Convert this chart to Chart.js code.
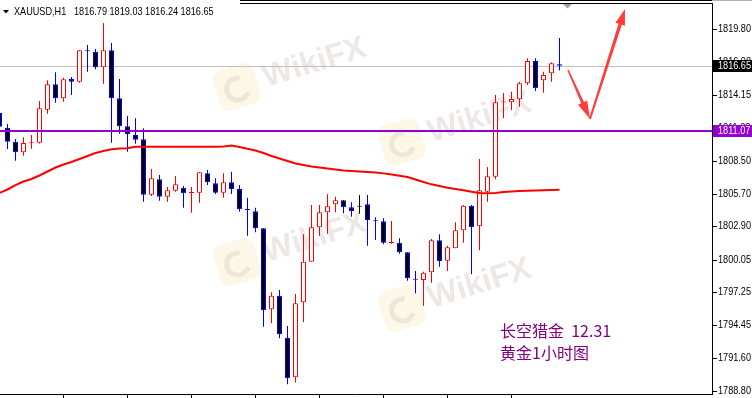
<!DOCTYPE html>
<html>
<head>
<meta charset="utf-8">
<script src="https://cdn.jsdelivr.net/npm/chart.js@4.4.1/dist/chart.umd.min.js"></script>
<style>
  html, body { margin: 0; padding: 0; background: #fff; }
  canvas { display: block; }
</style>
</head>
<body>
<canvas id="chart" width="752" height="398"></canvas>
<script>
// XAUUSD H1 candles
var opens = [1812.61,1811.35,1810.15,1809.24,1810.02,1810.07,1812.89,1815.07,1813.87,1815.52,
             1815.29,1817.95,1817.86,1816.52,1817.98,1813.87,1811.47,1810.72,1810.36,1805.61,
             1806.93,1805.44,1805.96,1806.21,1805.76,1805.78,1807.45,1806.59,1805.78,1806.67,
             1806.10,1804.35,1804.19,1802.74,1795.80,1796.97,1793.37,1789.98,1796.40,1799.88,
             1802.82,1804.11,1804.79,1805.13,1804.53,1804.59,1804.79,1803.38,1803.34,1801.48,
             1801.50,1800.68,1798.41,1798.31,1798.97,1801.71,1799.96,1801.02,1802.56,1804.67,
             1802.91,1805.87,1807.15,1813.50,1813.52,1813.78,1815.15,1817.06,1815.41,1816.01,1816.79];
var highs = [1812.75,1811.67,1810.38,1810.53,1810.72,1813.64,1815.41,1816.09,1815.63,1815.69,
             1818.00,1818.43,1818.09,1820.31,1818.60,1815.52,1812.35,1812.15,1811.30,1807.81,
             1807.30,1806.27,1807.21,1806.36,1806.27,1807.53,1807.73,1807.02,1807.45,1807.58,
             1806.44,1805.36,1804.50,1802.74,1797.26,1797.45,1794.37,1797.11,1802.22,1804.73,
             1804.73,1805.65,1805.44,1805.16,1804.96,1805.59,1805.59,1803.68,1803.59,1803.36,
             1801.88,1800.68,1799.08,1799.02,1801.82,1802.22,1801.25,1803.25,1804.73,1804.73,
             1808.67,1807.98,1814.15,1814.32,1814.43,1815.29,1817.29,1817.29,1816.14,1816.95,1819.03];
var lows = [1811.25,1809.53,1808.52,1808.95,1809.55,1810.00,1812.55,1813.49,1813.58,1814.15,
            1815.20,1816.14,1816.35,1815.12,1810.07,1810.84,1809.29,1809.98,1805.01,1805.50,
            1805.10,1805.01,1805.87,1804.50,1804.07,1804.93,1806.44,1805.67,1805.36,1805.67,
            1804.16,1802.10,1802.39,1794.31,1794.60,1793.32,1789.38,1789.52,1794.69,1799.88,
            1802.10,1802.27,1804.11,1804.02,1803.73,1803.99,1801.25,1801.73,1801.37,1801.42,
            1800.56,1798.25,1797.17,1796.11,1798.08,1799.45,1799.08,1801.02,1801.50,1798.80,
            1800.85,1805.01,1806.93,1812.15,1812.86,1813.15,1815.01,1814.49,1814.35,1815.29,1816.24];
var closes = [1811.43,1810.15,1809.24,1810.04,1810.05,1813.01,1815.07,1813.87,1815.49,1815.29,
              1817.98,1817.90,1816.52,1817.98,1813.87,1811.47,1810.78,1810.32,1805.61,1807.02,
              1805.44,1805.99,1806.50,1805.73,1805.80,1807.53,1806.67,1805.78,1806.67,1806.10,
              1804.36,1804.30,1802.74,1795.71,1796.97,1793.66,1789.89,1796.31,1799.88,1802.82,
              1804.11,1804.62,1805.13,1804.53,1804.22,1804.59,1803.45,1803.34,1801.50,1801.52,
              1800.68,1798.45,1798.33,1798.93,1801.71,1799.94,1801.11,1802.56,1804.67,1802.82,
              1805.99,1807.19,1813.52,1813.54,1813.81,1815.15,1817.06,1814.72,1815.86,1816.86,1816.65];
// moving average (red line)
var maValues = [1805.76,1806.06,1806.44,1806.74,1806.96,1807.26,1807.60,1807.94,1808.20,1808.41,
                1808.67,1808.93,1809.18,1809.35,1809.50,1809.57,1809.59,1809.72,1809.72,1809.72,
                1809.72,1809.72,1809.72,1809.72,1809.72,1809.72,1809.72,1809.72,1809.75,1809.82,
                1809.70,1809.55,1809.40,1809.18,1808.93,1808.71,1808.50,1808.28,1808.16,1808.03,
                1807.94,1807.86,1807.77,1807.69,1807.64,1807.60,1807.56,1807.51,1807.44,1807.34,
                1807.24,1807.13,1806.91,1806.70,1806.50,1806.36,1806.21,1806.10,1805.99,1805.87,
                1805.76,1805.73,1805.76,1805.84,1805.89,1805.93,1805.96,1805.97,1805.99,1806.01,1806.04];

var priceTicks = [1819.80,1816.98,1814.15,1811.33,1808.50,1805.70,1802.90,1800.05,1797.25,1794.45,1791.60,1788.80];
var timeTickIdx = [8,16,24,32,40,48,56,64];
var symbolName = "XAUUSD,H1";
var levelPrice = 1811.07;
var bidPrice = closes[closes.length - 1];
// hand drawn arrows: [candle index, price]
var arrowDown = [[71.06,1816.29],[73.81,1812.09]];
var arrowUp = [[73.81,1812.09],[78.19,1821.51]];
var noteLines = ["长空猎金  12.31", "黄金1小时图"];

var idx = opens.map(function (v, i) { return i; });

function candleColor(i) {
  if (closes[i] > opens[i]) return '#ff0000';
  if (closes[i] < opens[i]) return '#0000ff';
  return '#000000';
}
function bodyFill(i) {
  var d = closes[i] - opens[i];
  if (Math.abs(d) < 0.1) return candleColor(i);
  return d > 0 ? '#ffffff' : '#000000';
}

function mtText(ctx, str, x, y, color) {
  ctx.save();
  ctx.translate(x, y);
  ctx.scale(0.83, 1);
  ctx.font = '11px "Liberation Sans"';
  ctx.fillStyle = color;
  ctx.textBaseline = 'middle';
  ctx.textAlign = 'left';
  ctx.fillText(str, 0, 0);
  ctx.restore();
}

function watermark(ctx, x, y) {
  ctx.save();
  ctx.translate(x, y);
  ctx.rotate(-0.3);
  ctx.fillStyle = 'rgba(245,205,110,0.16)';
  ctx.beginPath();
  ctx.roundRect(-21, -21, 42, 42, 9);
  ctx.fill();
  ctx.strokeStyle = 'rgba(170,140,140,0.16)';
  ctx.lineWidth = 5;
  ctx.beginPath();
  ctx.arc(0, 2, 11, 0.6, 5.2);
  ctx.stroke();
  ctx.font = 'bold 32px "Liberation Sans"';
  ctx.fillStyle = 'rgba(170,135,135,0.2)';
  ctx.textBaseline = 'middle';
  ctx.fillText('WikiFX', 28, 0);
  ctx.restore();
}

function arrow(ctx, p1, p2, w1, w2, headLen, headHalf) {
  var dx = p2[0] - p1[0], dy = p2[1] - p1[1];
  var len = Math.sqrt(dx * dx + dy * dy);
  var ux = dx / len, uy = dy / len, nx = -uy, ny = ux;
  var bx = p2[0] - ux * headLen, by = p2[1] - uy * headLen;
  ctx.beginPath();
  ctx.moveTo(p1[0] + nx * w1 / 2, p1[1] + ny * w1 / 2);
  ctx.lineTo(bx + nx * w2 / 2, by + ny * w2 / 2);
  ctx.lineTo(bx + nx * headHalf, by + ny * headHalf);
  ctx.lineTo(p2[0], p2[1]);
  ctx.lineTo(bx - nx * headHalf, by - ny * headHalf);
  ctx.lineTo(bx - nx * w2 / 2, by - ny * w2 / 2);
  ctx.lineTo(p1[0] - nx * w1 / 2, p1[1] - ny * w1 / 2);
  ctx.closePath();
  ctx.fill();
}

var overlay = {
  id: 'overlay',
  beforeDatasetsDraw: function (chart) {
    var ctx = chart.ctx, a = chart.chartArea, ys = chart.scales.y;
    watermark(ctx, 237, 87);
    watermark(ctx, 237, 262);
    watermark(ctx, 402, 142);
    watermark(ctx, 402, 308);
    // bid line
    var by = Math.round(ys.getPixelForValue(bidPrice)) + 0.5;
    ctx.save();
    ctx.strokeStyle = '#c0c0c0';
    ctx.lineWidth = 1;
    ctx.beginPath();
    ctx.moveTo(a.left, by);
    ctx.lineTo(a.right, by);
    ctx.stroke();
    ctx.restore();
  },
  afterDatasetsDraw: function (chart) {
    var ctx = chart.ctx, a = chart.chartArea, xs = chart.scales.x, ys = chart.scales.y;
    ctx.save();
    // purple level
    var ly = ys.getPixelForValue(levelPrice);
    ctx.strokeStyle = '#9400d3';
    ctx.lineWidth = 2;
    ctx.beginPath();
    ctx.moveTo(a.left, ly);
    ctx.lineTo(a.right, ly);
    ctx.stroke();
    // arrows
    function pt(p) { return [xs.getPixelForValue(p[0]), ys.getPixelForValue(p[1])]; }
    ctx.fillStyle = 'rgba(255,45,45,0.92)';
    arrow(ctx, pt(arrowDown[0]), pt(arrowDown[1]), 1.5, 3, 18, 5);
    arrow(ctx, pt(arrowUp[0]), pt(arrowUp[1]), 2, 3.5, 16, 5);
    // note text
    ctx.font = '16px "Noto Sans CJK SC"';
    ctx.fillStyle = '#800080';
    ctx.textBaseline = 'middle';
    ctx.fillText(noteLines[0], 500, 331);
    ctx.fillText(noteLines[1], 500, 353);
    ctx.restore();
  },
  afterDraw: function (chart) {
    var ctx = chart.ctx, a = chart.chartArea, xs = chart.scales.x, ys = chart.scales.y;
    ctx.save();
    ctx.strokeStyle = '#000';
    ctx.lineWidth = 1;
    ctx.beginPath();
    // frame
    ctx.moveTo(240, 0.5); ctx.lineTo(a.right, 0.5);
    ctx.moveTo(240, a.top + 0.5); ctx.lineTo(a.right + 0.5, a.top + 0.5);
    ctx.moveTo(a.right + 0.5, a.top); ctx.lineTo(a.right + 0.5, a.bottom);
    ctx.moveTo(a.left, a.bottom - 0.5); ctx.lineTo(a.right + 1, a.bottom - 0.5);
    // time ticks
    timeTickIdx.forEach(function (t) {
      var x = Math.round(xs.getPixelForValue(t) - 0.5) + 0.5;
      ctx.moveTo(x, a.bottom); ctx.lineTo(x, a.bottom + 4);
    });
    // price ticks
    priceTicks.forEach(function (v) {
      var y = Math.round(ys.getPixelForValue(v)) + 0.5;
      ctx.moveTo(a.right + 1, y); ctx.lineTo(a.right + 5, y);
    });
    ctx.stroke();
    ctx.strokeStyle = '#b0b0b0';
    ctx.beginPath();
    ctx.moveTo(a.right, 0.5); ctx.lineTo(752, 0.5);
    ctx.stroke();
    priceTicks.forEach(function (v) {
      mtText(ctx, v.toFixed(2), a.right + 6, ys.getPixelForValue(v), '#000');
    });
    // price boxes
    [[bidPrice, '#000000'], [levelPrice, '#9400d3']].forEach(function (b) {
      var y = Math.round(ys.getPixelForValue(b[0]));
      ctx.fillStyle = b[1];
      ctx.fillRect(a.right + 1, y - 6, 752 - a.right - 1, 12);
      mtText(ctx, b[0].toFixed(2), a.right + 6, y, '#ffffff');
    });
    // header
    ctx.fillStyle = '#000';
    ctx.beginPath();
    ctx.moveTo(3, 10); ctx.lineTo(9, 10); ctx.lineTo(6, 13.5); ctx.closePath();
    ctx.fill();
    var last = closes.length - 1;
    mtText(ctx, symbolName, 14, 12, '#000');
    mtText(ctx, [opens[last], highs[last], lows[last], closes[last]].map(function (v) { return v.toFixed(2); }).join(' '), 74, 12, '#000');
    // chart shift marker
    ctx.fillStyle = '#a0a0a0';
    ctx.beginPath();
    ctx.moveTo(563, 4); ctx.lineTo(572, 4); ctx.lineTo(567.5, 8.5); ctx.closePath();
    ctx.fill();
    ctx.restore();
  }
};

new Chart(document.getElementById('chart'), {
  type: 'bar',
  data: {
    datasets: [
      {
        type: 'line',
        data: idx.map(function (i) { return { x: i, y: maValues[i] }; }),
        borderColor: '#ff0000',
        borderWidth: 2,
        pointRadius: 0,
        tension: 0,
        order: 0
      },
      {
        data: idx.map(function (i) { return { x: i, y: [opens[i], closes[i]] }; }),
        backgroundColor: function (c) { return bodyFill(c.dataIndex); },
        borderColor: function (c) { return candleColor(c.dataIndex); },
        borderWidth: 1,
        borderSkipped: false,
        barThickness: 5,
        minBarLength: 1,
        grouped: false,
        inflateAmount: 0,
        order: 1
      },
      {
        data: idx.map(function (i) { return { x: i, y: [lows[i], highs[i]] }; }),
        backgroundColor: function (c) { return candleColor(c.dataIndex); },
        borderWidth: 0,
        barThickness: 1,
        grouped: false,
        inflateAmount: 0,
        order: 2
      }
    ]
  },
  options: {
    responsive: false,
    animation: false,
    devicePixelRatio: 1,
    layout: { padding: { top: 3, bottom: 3, left: 0, right: 40 } },
    plugins: { legend: { display: false }, tooltip: { enabled: false } },
    scales: {
      x: { type: 'linear', display: false, offset: false, min: 0.0625, max: 89.0625 },
      y: { display: false, min: 1788.46, max: 1822.03 }
    }
  },
  plugins: [overlay]
});
</script>
</body>
</html>
